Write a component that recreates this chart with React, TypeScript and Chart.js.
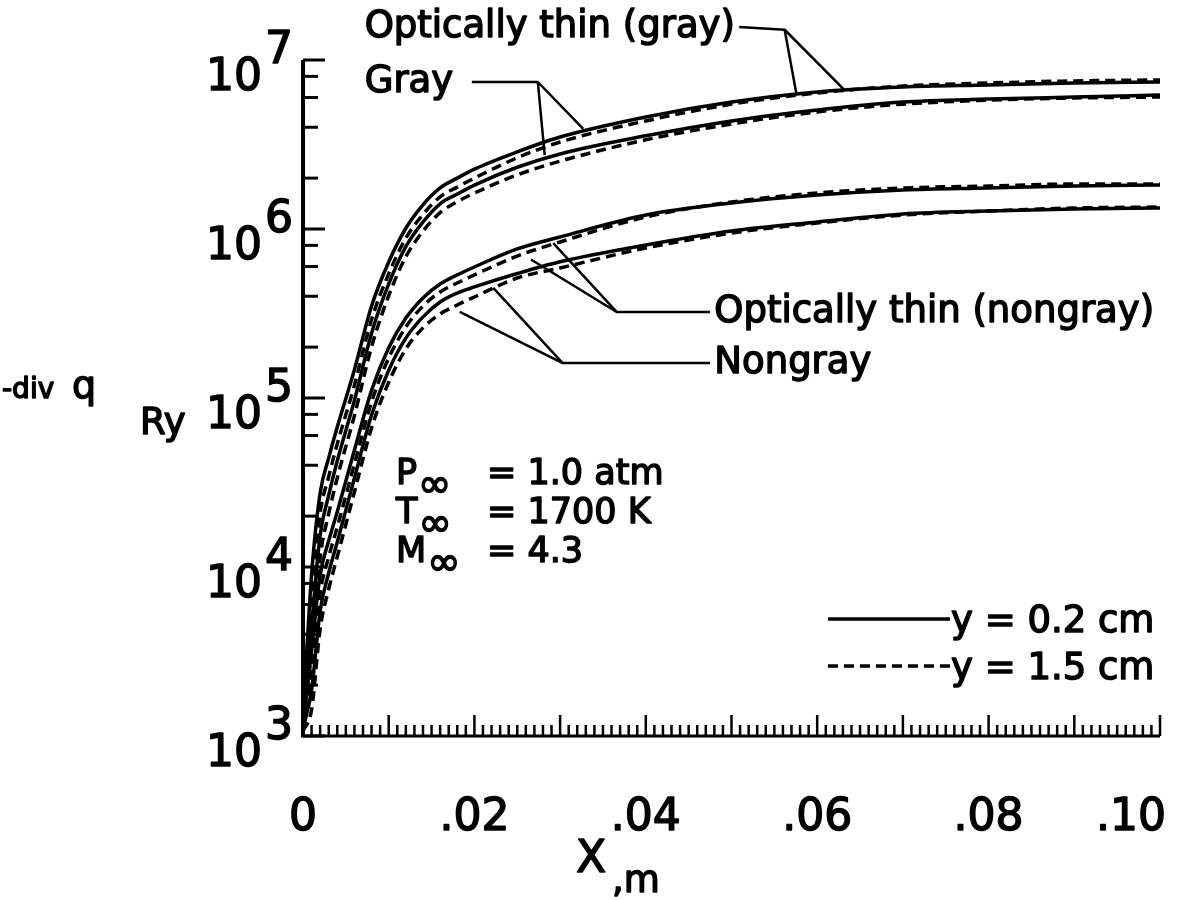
import React, { useEffect, useRef } from "react";
import { Chart, registerables } from "chart.js";

Chart.register(...registerables);

// ---- data ----
const X_VALUES = [0, 0.001, 0.002, 0.003, 0.004, 0.006, 0.008, 0.01, 0.012, 0.014, 0.016, 0.018, 0.02, 0.025, 0.03, 0.04, 0.05, 0.06, 0.07, 0.08, 0.09, 0.1];

const OT_GRAY_Y02 = [1300, 9000, 27400, 44200, 67300, 147000, 350000, 638000, 1010000, 1390000, 1750000, 2000000, 2260000, 2860000, 3500000, 4600000, 5640000, 6470000, 6920000, 7110000, 7310000, 7410000];
const OT_GRAY_Y15 = [1260, 6350, 20800, 34300, 53500, 119000, 291000, 543000, 883000, 1220000, 1550000, 1770000, 2000000, 2640000, 3270000, 4360000, 5480000, 6380000, 7010000, 7310000, 7520000, 7620000];
const GRAY_Y02 = [1230, 4500, 15400, 26600, 42500, 96800, 242000, 473000, 787000, 1100000, 1410000, 1610000, 1820000, 2320000, 2780000, 3560000, 4360000, 5060000, 5640000, 5870000, 6040000, 6210000];
const GRAY_Y15 = [1200, 3180, 11400, 20700, 33700, 78700, 201000, 403000, 685000, 970000, 1250000, 1450000, 1630000, 2090000, 2520000, 3370000, 4180000, 4930000, 5480000, 5790000, 5960000, 6040000];
const OT_NONGRAY_Y02 = [1160, 3230, 8970, 14300, 21200, 49200, 111000, 198000, 297000, 391000, 473000, 535000, 596000, 762000, 897000, 1210000, 1425000, 1589000, 1701000, 1748000, 1796000, 1821000];
const OT_NONGRAY_Y15 = [1130, 2460, 7020, 11460, 17250, 40700, 94700, 172500, 263000, 350000, 424000, 479000, 535000, 692000, 838000, 1178000, 1445000, 1633000, 1748000, 1796000, 1846000, 1846000];
const NONGRAY_Y02 = [1100, 1870, 5490, 9220, 14060, 33600, 79300, 146000, 226000, 302000, 370000, 418000, 454000, 545000, 640000, 804000, 973000, 1100000, 1227000, 1278000, 1313000, 1331000];
const NONGRAY_Y15 = [1070, 1430, 4300, 7410, 11500, 27800, 66500, 124000, 195000, 260000, 314000, 355000, 396000, 513000, 588000, 772000, 946000, 1085000, 1210000, 1278000, 1331000, 1349000];

const X_TICK_LABELS = ["0", ".02", ".04", ".06", ".08", ".10"];
const X_TICK_VALUES = [0, 0.02, 0.04, 0.06, 0.08, 0.1];
const Y_DECADES = [3, 4, 5, 6, 7];
const Y_MINOR_MULTS = [2, 4, 6, 8];

const LEGEND_LABELS = ["y = 0.2 cm", "y = 1.5 cm"];
const CONDITIONS = [
  { sym: "P", rest: "= 1.0 atm" },
  { sym: "T", rest: "= 1700 K" },
  { sym: "M", rest: "= 4.3" },
];

// annotation anchors in data coordinates
const ANNOTATIONS = [
  {
    text: "Optically thin (gray)",
    textAt: { x: 0.0072, y: 1.55e7 },
    start: { x: 0.0509, y: 1.57e7 },
    joint: { x: 0.0562, y: 1.51e7 },
    ends: [{ x: 0.0576, y: 6.21e6 }, { x: 0.0632, y: 6.64e6 }],
  },
  {
    text: "Gray",
    textAt: { x: 0.0072, y: 7.41e6 },
    start: { x: 0.0197, y: 7.41e6 },
    joint: { x: 0.0274, y: 7.41e6 },
    ends: [{ x: 0.0282, y: 2.74e6 }, { x: 0.0327, y: 3.91e6 }],
  },
  {
    text: "Optically thin (nongray)",
    textAt: { x: 0.048, y: 3.23e5 },
    start: { x: 0.0475, y: 3.23e5 },
    joint: { x: 0.0366, y: 3.23e5 },
    ends: [{ x: 0.0292, y: 8.26e5 }, { x: 0.0266, y: 6.6e5 }],
  },
  {
    text: "Nongray",
    textAt: { x: 0.048, y: 1.61e5 },
    start: { x: 0.0475, y: 1.61e5 },
    joint: { x: 0.0303, y: 1.61e5 },
    ends: [{ x: 0.0183, y: 3.23e5 }, { x: 0.0222, y: 4.48e5 }],
  },
];

const SERIES = [
  { name: "Optically thin (gray), y = 0.2 cm", values: OT_GRAY_Y02, dashed: false },
  { name: "Optically thin (gray), y = 1.5 cm", values: OT_GRAY_Y15, dashed: true },
  { name: "Gray, y = 0.2 cm", values: GRAY_Y02, dashed: false },
  { name: "Gray, y = 1.5 cm", values: GRAY_Y15, dashed: true },
  { name: "Optically thin (nongray), y = 0.2 cm", values: OT_NONGRAY_Y02, dashed: false },
  { name: "Optically thin (nongray), y = 1.5 cm", values: OT_NONGRAY_Y15, dashed: true },
  { name: "Nongray, y = 0.2 cm", values: NONGRAY_Y02, dashed: false },
  { name: "Nongray, y = 1.5 cm", values: NONGRAY_Y15, dashed: true },
];

const DASH = [10, 6];
const FAMILY = '"DejaVu Sans"';
const TEXT_FONT = `37px ${FAMILY}`;
const NUM_FONT = `44px ${FAMILY}`;
const COND_FONT = `35px ${FAMILY}`;

function heavyText(ctx: CanvasRenderingContext2D, s: string, x: number, y: number) {
  ctx.fillText(s, x, y);
  ctx.strokeText(s, x, y);
}

const decorPlugin = {
  id: "decor",
  afterDatasetsDraw(chart: any) {
    const ctx: CanvasRenderingContext2D = chart.ctx;
    const xs = chart.scales.x;
    const ys = chart.scales.y;
    const { left, right, top, bottom } = chart.chartArea;
    const px = (v: number) => xs.getPixelForValue(v);
    const py = (v: number) => ys.getPixelForValue(v);
    ctx.save();
    ctx.strokeStyle = "#000";
    ctx.fillStyle = "#000";
    ctx.lineCap = "butt";
    ctx.lineJoin = "round";

    // axes
    ctx.lineWidth = 4;
    ctx.beginPath();
    ctx.moveTo(left, top);
    ctx.lineTo(left, bottom + 1.5);
    ctx.stroke();
    ctx.lineWidth = 3;
    ctx.beginPath();
    ctx.moveTo(left, bottom);
    ctx.lineTo(right, bottom);
    ctx.stroke();

    // y ticks
    ctx.lineWidth = 3;
    Y_DECADES.forEach((d) => {
      const yy = py(Math.pow(10, d));
      ctx.beginPath();
      ctx.moveTo(left, yy);
      ctx.lineTo(left + 22, yy);
      ctx.stroke();
      if (d < 7) {
        Y_MINOR_MULTS.forEach((m) => {
          const ym = py(m * Math.pow(10, d));
          ctx.beginPath();
          ctx.moveTo(left, ym);
          ctx.lineTo(left + 15, ym);
          ctx.stroke();
        });
      }
    });

    // x ticks (every 0.001, taller every 0.01)
    ctx.lineWidth = 2.5;
    for (let i = 0; i <= 100; i++) {
      const xx = px(i / 1000);
      const len = i % 10 === 0 ? 21 : 11;
      ctx.beginPath();
      ctx.moveTo(xx, bottom);
      ctx.lineTo(xx, bottom - len);
      ctx.stroke();
    }

    // y tick labels 10^n
    ctx.lineWidth = 1.5;
    ctx.font = NUM_FONT;
    Y_DECADES.forEach((d) => {
      const yy = py(Math.pow(10, d));
      ctx.textAlign = "right";
      heavyText(ctx, "10", 262, yy + 30);
      ctx.textAlign = "left";
      heavyText(ctx, String(d), 265, yy + 3);
    });

    // x tick labels
    ctx.textAlign = "center";
    X_TICK_VALUES.forEach((v, i) => {
      const w = ctx.measureText(X_TICK_LABELS[i]).width;
      const cx = Math.min(px(v), 1166 - w / 2);
      heavyText(ctx, X_TICK_LABELS[i], cx, 830);
    });

    // axis titles
    ctx.textAlign = "left";
    ctx.font = `28px ${FAMILY}`;
    heavyText(ctx, "-div", 2, 398);
    ctx.font = `38px ${FAMILY}`;
    heavyText(ctx, "q", 72, 398);
    ctx.font = TEXT_FONT;
    heavyText(ctx, "Ry", 140, 434);
    ctx.font = `44px ${FAMILY}`;
    heavyText(ctx, "X", 576, 872);
    ctx.font = TEXT_FONT;
    heavyText(ctx, ",m", 612, 892);

    // conditions
    CONDITIONS.forEach((c, i) => {
      const base = 484 + i * 39;
      ctx.font = COND_FONT;
      heavyText(ctx, c.sym, 396, base);
      const w = ctx.measureText(c.sym).width;
      ctx.font = `40px ${FAMILY}`;
      heavyText(ctx, "\u221e", 396 + w + 1, base + 13);
      ctx.font = COND_FONT;
      heavyText(ctx, c.rest, 487, base);
    });

    // legend
    ctx.lineWidth = 3.5;
    ctx.beginPath();
    ctx.moveTo(828, 619);
    ctx.lineTo(950, 619);
    ctx.stroke();
    ctx.setLineDash(DASH);
    ctx.beginPath();
    ctx.moveTo(828, 666);
    ctx.lineTo(950, 666);
    ctx.stroke();
    ctx.setLineDash([]);
    ctx.lineWidth = 1.5;
    ctx.font = TEXT_FONT;
    heavyText(ctx, LEGEND_LABELS[0], 951, 632);
    heavyText(ctx, LEGEND_LABELS[1], 951, 679);

    // annotations
    ANNOTATIONS.forEach((a) => {
      ctx.lineWidth = 2.5;
      const jx = px(a.joint.x), jy = py(a.joint.y);
      ctx.beginPath();
      ctx.moveTo(px(a.start.x), py(a.start.y));
      ctx.lineTo(jx, jy);
      ctx.lineTo(px(a.ends[0].x), py(a.ends[0].y));
      ctx.moveTo(jx, jy);
      ctx.lineTo(px(a.ends[1].x), py(a.ends[1].y));
      ctx.stroke();
      ctx.lineWidth = 1.5;
      ctx.font = TEXT_FONT;
      ctx.textAlign = "left";
      ctx.textBaseline = "middle";
      heavyText(ctx, a.text, px(a.textAt.x), py(a.textAt.y));
      ctx.textBaseline = "alphabetic";
    });

    ctx.restore();
  },
};

export default function App() {
  const ref = useRef<HTMLCanvasElement | null>(null);
  useEffect(() => {
    if (!ref.current) return;
    const chart = new Chart(ref.current, {
      type: "line",
      data: {
        datasets: SERIES.map((s) => ({
          label: s.name,
          data: X_VALUES.map((x, i) => ({ x, y: s.values[i] })),
          borderColor: "#000",
          borderWidth: 3.5,
          borderDash: s.dashed ? DASH : [],
          pointRadius: 0,
          fill: false,
          cubicInterpolationMode: "monotone" as const,
        })),
      },
      options: {
        animation: false,
        responsive: false,
        maintainAspectRatio: false,
        layout: { padding: { left: 303, right: 23, top: 60, bottom: 164 } },
        scales: {
          x: { type: "linear", min: 0, max: 0.1, display: false },
          y: { type: "logarithmic", min: 1000, max: 1e7, display: false },
        },
        plugins: { legend: { display: false }, tooltip: { enabled: false } },
      },
      plugins: [decorPlugin],
    });
    return () => chart.destroy();
  }, []);
  return (
    <div style={{ position: "absolute", left: 0, top: 0, width: 1183, height: 900, background: "#fff" }}>
      <canvas ref={ref} width={1183} height={900} />
    </div>
  );
}
